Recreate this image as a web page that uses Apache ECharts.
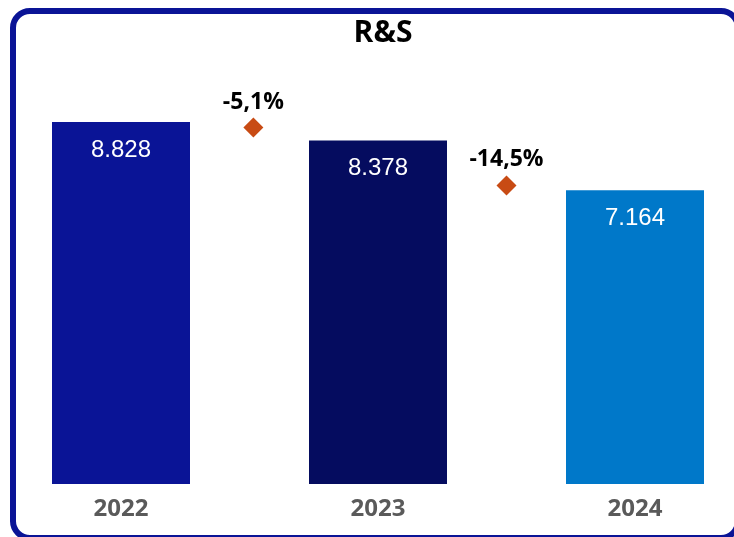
<!DOCTYPE html>
<html>
<head>
<meta charset="utf-8">
<script src="https://cdn.jsdelivr.net/npm/echarts@6/dist/echarts.min.js"></script>
<style>
  html, body { margin: 0; padding: 0; width: 734px; height: 537px; overflow: hidden; background: #fff; }
  .frame {
    position: absolute; left: 10px; top: 8px; width: 731px; height: 533px;
    box-sizing: border-box; border: 6px solid #0a1496; border-radius: 20px;
  }
  #chart { position: absolute; left: 0; top: 0; width: 734px; height: 537px; }
</style>
</head>
<body>
<div class="frame"></div>
<div id="chart"></div>
<script>
// data
const years = ['2022', '2023', '2024'];
const values = [8.828, 8.378, 7.164];
const barColors = ['#0a1496', '#050c5f', '#0078c9'];
const changes = [-5.1, -14.5];          // variazione anno su anno (%)
const changePos = [0.515, 1.5];         // tra le colonne

const fmtNum = v => v.toFixed(3);
const fmtPct = v => v.toFixed(1).replace('.', ',') + '%';

const chart = echarts.init(document.getElementById('chart'));
chart.setOption({
  animation: false,
  title: {
    text: 'R&S',
    left: 378,
    textAlign: 'center',
    top: 13,
    textStyle: { fontFamily: 'Open Sans', fontWeight: 'bold', fontSize: 30, color: '#000' }
  },
  grid: { left: -7.5, width: 771, top: 74, height: 410, containLabel: false, outerBoundsMode: 'none' },
  xAxis: [
    {
      type: 'category',
      data: years,
      axisLine: { show: false },
      axisTick: { show: false },
      axisLabel: {
        margin: 13,
        fontFamily: 'Open Sans', fontWeight: 'bold', fontSize: 24, color: '#5a5a5a'
      }
    },
    { type: 'value', min: -0.5, max: 2.5, show: false }
  ],
  yAxis: [
    { type: 'value', min: 0, max: 10, show: false, splitLine: { show: false } },
    { type: 'value', min: -63, max: 3.6, show: false, splitLine: { show: false } }
  ],
  series: [
    {
      type: 'bar',
      barWidth: 138,
      data: values.map((v, i) => ({ value: v, itemStyle: { color: barColors[i] } })),
      label: {
        show: true,
        position: 'insideTop',
        distance: 16,
        formatter: p => fmtNum(p.value),
        fontFamily: 'Liberation Sans', fontSize: 24, color: '#fff'
      }
    },
    {
      type: 'scatter',
      xAxisIndex: 1,
      yAxisIndex: 1,
      symbol: 'diamond',
      symbolSize: [20, 20],
      itemStyle: { color: '#c84b14', opacity: 1 },
      data: changes.map((c, i) => [changePos[i], c]),
      label: {
        show: true,
        position: 'top',
        distance: 4,
        formatter: p => fmtPct(p.value[1]),
        fontFamily: 'Open Sans', fontWeight: 'bold', fontSize: 23, color: '#000'
      }
    }
  ]
});
</script>
</body>
</html>
